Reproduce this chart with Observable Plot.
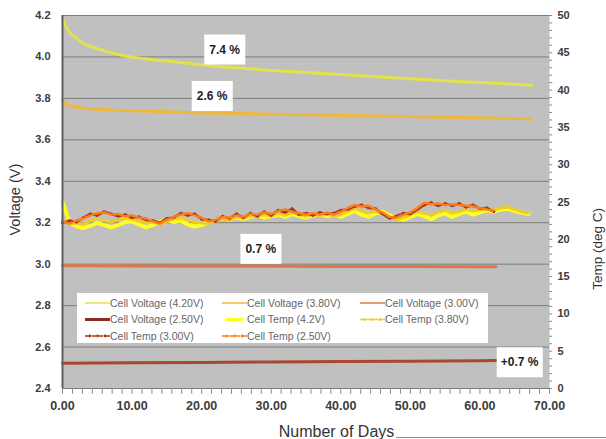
<!DOCTYPE html>
<html><head><meta charset="utf-8">
<script src="https://cdn.jsdelivr.net/npm/d3@7"></script>
<script src="https://cdn.jsdelivr.net/npm/@observablehq/plot@0.6"></script>
<style>
body{margin:0;background:#fff;}
#wrap{position:relative;width:606px;height:439px;overflow:hidden;font-family:"Liberation Sans",Arial,sans-serif;}
#legend{position:absolute;left:77px;top:293px;width:411px;height:50px;background:#fff;}
#rule{position:absolute;left:396px;top:437px;width:210px;height:1px;background:#8a8a8a;}
</style></head><body><div id="wrap"></div>
<script>
// ---- Voltage series (days, volts) ----
const v420Days = [0,0.3,1,2,3,5,7,9,12,15,18,22,26,30,35,40,45,50,55,60,65,67.5];
const v420 = [4.19,4.16,4.12,4.09,4.065,4.04,4.02,4.005,3.99,3.98,3.97,3.955,3.945,3.935,3.925,3.915,3.905,3.895,3.885,3.877,3.868,3.864];
const v380Days = [0,0.5,1,2,4,7,10,15,20,25,30,35,40,45,50,55,60,65,67.5];
const v380 = [3.79,3.775,3.765,3.757,3.75,3.744,3.74,3.735,3.73,3.727,3.724,3.721,3.718,3.715,3.712,3.709,3.706,3.703,3.701];
const v300Days = [0,10,20,30,40,50,60,62.3];
const v300 = [2.992,2.991,2.990,2.990,2.989,2.989,2.988,2.988];
const v250Days = [0,10,20,30,40,50,60,62.3];
const v250 = [2.522,2.524,2.526,2.528,2.530,2.532,2.534,2.535];
// ---- Temperature series (deg C, one value per day starting at day 0) ----
const t420 = [25.0,22.3,21.7,21.5,21.8,22.2,21.9,21.6,21.9,22.3,22.4,22.0,21.6,21.9,22.3,22.6,22.3,22.5,22.0,21.7,21.9,22.3,22.5,22.8,22.6,22.9,22.7,23.0,23.2,22.9,23.1,23.3,23.0,23.4,23.1,22.9,23.2,23.4,23.1,23.3,23.0,23.4,23.8,23.3,23.0,23.5,23.7,23.2,22.8,22.6,23.0,23.4,23.1,22.7,23.2,23.5,23.0,23.4,23.7,23.3,23.6,23.9,23.7,24.0,24.1,23.8,23.6,23.4];
const t380 = [22.6,22.0,22.2,22.0,22.5,22.8,22.5,22.3,22.6,22.9,22.7,22.4,22.2,22.3,22.0,22.4,22.7,22.9,22.6,22.3,22.2,22.1,22.4,22.7,22.5,23.0,22.8,23.2,23.0,23.3,23.1,23.5,23.2,23.6,23.3,23.1,23.3,23.2,23.4,23.1,23.3,23.7,24.1,23.8,23.6,23.7,23.5,22.9,22.6,22.9,23.3,23.7,23.5,23.3,23.6,23.9,23.5,23.7,24.0,23.8,23.9,24.1,23.9,24.2,24.3,24.0,23.7,23.5];
const t300 = [22.2,22.5,22.3,22.9,23.4,23.2,23.7,23.4,23.1,23.3,22.9,23.0,22.6,22.5,22.2,22.8,22.9,23.5,23.2,23.4,22.7,22.6,22.4,23.1,22.8,23.4,22.9,23.5,23.1,23.7,23.2,23.9,23.6,24.1,23.3,23.5,23.2,23.6,23.4,23.5,23.9,24.0,24.4,24.6,24.2,24.1,23.4,22.8,23.1,23.5,23.4,24.0,24.6,24.9,24.5,24.8,24.5,24.8,24.3,24.6,24.1,24.2,23.7];
const t250 = [22.4,22.1,22.5,22.8,23.2,23.5,23.6,23.3,23.4,23.1,23.2,22.9,22.8,22.4,22.1,22.6,23.0,23.3,23.5,23.2,22.9,22.4,22.6,23.0,22.9,23.2,23.0,23.4,23.3,23.6,23.4,23.8,24.0,23.7,23.5,23.3,23.5,23.3,23.6,23.3,23.7,24.2,24.6,24.4,24.5,24.0,23.6,23.0,22.9,23.3,23.6,24.2,24.9,24.7,24.8,24.6,24.7,24.6,24.5,24.4,24.2,24.0,23.8];
// ---- Axis ticks ----
const voltTicks = [2.4,2.6,2.8,3.0,3.2,3.4,3.6,3.8,4.0,4.2];
const tempTicks = [0,5,10,15,20,25,30,35,40,45,50];
const dayTicks = [0,10,20,30,40,50,60,70];
// ---- Annotations ----
const annoLabels = ["7.4 %","2.6 %","0.7 %","+0.7 %"];
const annoDays = [23.3,21.5,28.5,65.7];
const annoVolts = [4.035,3.811,3.073,2.526];
// ---- Legend ----
const legendLabels = ["Cell Voltage (4.20V)","Cell Voltage (3.80V)","Cell Voltage (3.00V)","Cell Voltage (2.50V)","Cell Temp (4.2V)","Cell Temp (3.80V)","Cell Temp (3.00V)","Cell Temp (2.50V)"];

const colors = {v420:"#e2e24c", v380:"#eeb83e", v300:"#e07846", v250:"#a8482e", t420:"#ffff1e", t380:"#eccc2a", t300:"#a8341c", t250:"#ff7c1c"};

const toV = t => 2.4 + t * 1.8 / 50;
const fromV = v => (v - 2.4) * 50 / 1.8;
const pairs = (days, vals) => vals.map((v, i) => ({day: days[i], v}));
const daily = vals => vals.map((t, i) => ({day: i, v: toV(t)}));
const annos = annoLabels.map((label, i) => ({label, day: annoDays[i], v: annoVolts[i]}));

const minorDays = d3.range(0, 70.001, 10 / 7);
const minorTemp = d3.range(0, 50.001, 1);
const font = '"Liberation Sans", Arial, sans-serif';

const chart = Plot.plot({
  width: 606, height: 439,
  marginLeft: 62, marginRight: 57, marginTop: 15, marginBottom: 51,
  style: {fontFamily: font, background: "transparent"},
  x: {domain: [0, 70]},
  y: {domain: [2.4, 4.2]},
  marks: [
    Plot.frame({fill: "#c0c0c0", stroke: null}),
    Plot.gridY(voltTicks, {stroke: "#7c7c7c", strokeOpacity: 1, strokeWidth: 1}),
    Plot.line(pairs(v420Days, v420), {x: "day", y: "v", stroke: colors.v420, strokeWidth: 3, curve: "monotone-x"}),
    Plot.line(pairs(v380Days, v380), {x: "day", y: "v", stroke: colors.v380, strokeWidth: 3, curve: "monotone-x"}),
    Plot.line(pairs(v300Days, v300), {x: "day", y: "v", stroke: colors.v300, strokeWidth: 3}),
    Plot.line(pairs(v250Days, v250), {x: "day", y: "v", stroke: colors.v250, strokeWidth: 3}),
    Plot.line(daily(t420), {x: "day", y: "v", stroke: colors.t420, strokeWidth: 4}),
    Plot.line(daily(t380), {x: "day", y: "v", stroke: colors.t380, strokeWidth: 3, strokeDasharray: "5,2"}),
    Plot.line(daily(t300), {x: "day", y: "v", stroke: colors.t300, strokeWidth: 2.5, strokeDasharray: "4,2"}),
    Plot.dot(daily(t300), {x: "day", y: "v", fill: colors.t300, r: 1.4}),
    Plot.line(daily(t250), {x: "day", y: "v", stroke: colors.t250, strokeWidth: 2.5, strokeDasharray: "4,2"}),
    Plot.ruleX([0], {stroke: "#5e5e5e", strokeWidth: 2}),
    Plot.ruleX(minorDays, {y1: 2.4, y2: 2.372, stroke: "#8a8a8a"}),
    Plot.ruleY(minorTemp, {y: toV, x1: 70, x2: 70.45, stroke: "#8a8a8a"}),
    Plot.axisY(voltTicks, {anchor: "left", tickSize: 0, tickPadding: 12, tickFormat: d => d.toFixed(1), fontSize: 11, fontWeight: "bold", fill: "#3c3c3c", label: null}),
    Plot.axisY(tempTicks.map(toV), {anchor: "right", tickSize: 0, tickPadding: 8, tickFormat: v => Math.round(fromV(v)), fontSize: 11, fontWeight: "bold", fill: "#3c3c3c", label: null}),
    Plot.axisX(dayTicks, {anchor: "bottom", tickSize: 0, tickPadding: 13, tickFormat: d => d.toFixed(2), fontSize: 12.5, fontWeight: "bold", fill: "#3c3c3c", label: null}),
    Plot.text(["Voltage (V)"], {frameAnchor: "left", dx: -47, dy: 33.5, rotate: -90, fontSize: 14.5, fill: "#333"}),
    Plot.text(["Temp (deg C)"], {frameAnchor: "right", dx: 48, dy: 6, rotate: -90, fontSize: 13.5, fill: "#333"}),
    Plot.text(["Number of Days"], {frameAnchor: "bottom", dx: 30.5, dy: 48, fontSize: 16, fill: "#333"}),
    Plot.text(annos, {x: "day", y: "v", text: "label", fontSize: 12, fontWeight: "bold", fill: "#222"})
  ]
});

const wrap = document.getElementById("wrap");
wrap.appendChild(chart);

// white boxes behind annotation labels
d3.select(chart).selectAll("text").filter(function() {
  return annoLabels.includes(this.textContent);
}).each(function() {
  const b = this.getBBox();
  const w = Math.max(41, b.width + 8), h = 30;
  const cx = b.x + b.width / 2, cy = b.y + b.height / 2;
  const r = document.createElementNS("http://www.w3.org/2000/svg", "rect");
  r.setAttribute("x", cx - w / 2); r.setAttribute("y", cy - h / 2);
  r.setAttribute("width", w); r.setAttribute("height", h);
  r.setAttribute("fill", "#fff");
  const t = this.getAttribute("transform");
  if (t) r.setAttribute("transform", t);
  this.parentNode.insertBefore(r, this);
});

// Legend
const legendStyles = [
  {c: colors.v420, w: 1.5, dash: null, dots: false, len: 25},
  {c: colors.v380, w: 1.5, dash: null, dots: false, len: 25},
  {c: colors.v300, w: 1.5, dash: null, dots: false, len: 25},
  {c: "#8e2a22", w: 3, dash: null, dots: false, len: 25},
  {c: colors.t420, w: 3, dash: null, dots: false, len: 17, off: 4},
  {c: colors.t380, w: 1.5, dash: "4,3", dots: true, len: 25},
  {c: colors.t300, w: 1.5, dash: "4,3", dots: true, len: 25},
  {c: colors.t250, w: 1.5, dash: "4,3", dots: true, len: 25}
];
const colX = [8, 145, 283], rowY = [10, 26.5, 43];
const leg = d3.select(wrap).append("div").attr("id", "legend")
  .append("svg").attr("width", 411).attr("height", 50);
legendLabels.forEach((label, i) => {
  const s = legendStyles[i];
  const x = colX[i % 3], y = rowY[Math.floor(i / 3)];
  const x0 = x + (s.off || 0);
  leg.append("line").attr("x1", x0).attr("x2", x0 + s.len).attr("y1", y).attr("y2", y)
    .attr("stroke", s.c).attr("stroke-width", s.w).attr("stroke-dasharray", s.dash);
  if (s.dots) [x + 5, x + 12.5, x + 20].forEach(dx => leg.append("circle").attr("cx", dx).attr("cy", y).attr("r", 1.4).attr("fill", s.c));
  leg.append("text").attr("x", x + 25).attr("y", y).attr("dy", "0.35em")
    .attr("font-size", 10.5).attr("fill", "#666")
    .attr("font-family", font).text(label);
});
d3.select(wrap).append("div").attr("id", "rule");
</script></body></html>
